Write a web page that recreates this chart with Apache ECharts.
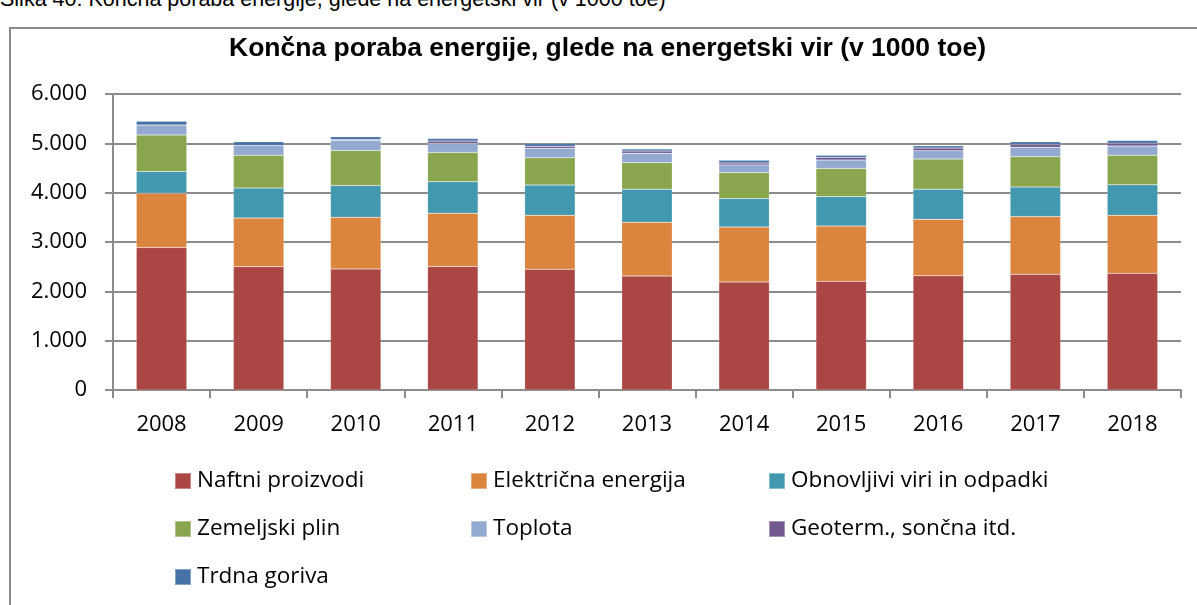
<!DOCTYPE html>
<html>
<head>
<meta charset="utf-8">
<script src="https://cdn.jsdelivr.net/npm/echarts@6/dist/echarts.min.js"></script>
<style>
  html, body { margin: 0; padding: 0; background: #fff; overflow: hidden; }
  #caption {
    position: absolute; left: 0; top: -13px;
    font-family: "Liberation Sans", Arial, sans-serif; font-size: 21.5px; color: #000;
    white-space: nowrap;
  }
  #frame {
    position: absolute; left: 9px; top: 27px; width: 1400px; height: 800px;
    border: 2px solid #8c8c8c; box-sizing: border-box;
  }
  #chart { position: absolute; left: 0; top: 0; width: 1197px; height: 605px; }
</style>
</head>
<body>
<div id="caption">Slika 40: Končna poraba energije, glede na energetski vir (v 1000 toe)</div>
<div id="frame"></div>
<div id="chart"></div>
<script>
// Final energy consumption by energy source, thousand toe
const years = ['2008', '2009', '2010', '2011', '2012', '2013', '2014', '2015', '2016', '2017', '2018'];
const naftniProizvodi = [2890, 2500, 2455, 2505, 2450, 2310, 2190, 2205, 2315, 2345, 2365];
const elektricnaEnergija = [1100, 985, 1045, 1080, 1090, 1090, 1115, 1120, 1145, 1170, 1175];
const obnovljiviViri = [440, 610, 645, 635, 615, 670, 575, 595, 610, 600, 620];
const zemeljskiPlin = [740, 665, 710, 595, 555, 535, 525, 570, 610, 615, 600];
const toplota = [200, 195, 205, 185, 190, 195, 155, 170, 170, 190, 185];
const geoterm = [0, 0, 20, 45, 40, 45, 40, 55, 55, 55, 55];
const trdnaGoriva = [80, 75, 55, 55, 55, 40, 55, 45, 45, 55, 55];

const seriesDefs = [
  { name: 'Naftni proizvodi', data: naftniProizvodi, color: '#AA4643' },
  { name: 'Električna energija', data: elektricnaEnergija, color: '#DB843D' },
  { name: 'Obnovljivi viri in odpadki', data: obnovljiviViri, color: '#4198AF' },
  { name: 'Zemeljski plin', data: zemeljskiPlin, color: '#89A54E' },
  { name: 'Toplota', data: toplota, color: '#93A9CF' },
  { name: 'Geoterm., sončna itd.', data: geoterm, color: '#71588F' },
  { name: 'Trdna goriva', data: trdnaGoriva, color: '#4572A7' }
];

const uiFont = '"Open Sans", "Noto Sans", sans-serif';

function fmtThousands(v) {
  return String(v).replace(/\B(?=(\d{3})+(?!\d))/g, '.');
}

function legendColumn(left, names) {
  return {
    left: left, top: 469, orient: 'vertical', padding: 0,
    data: names,
    icon: 'rect', itemWidth: 16, itemHeight: 16, itemGap: 24,
    selectedMode: false,
    textStyle: { fontFamily: uiFont, fontSize: 22.5, color: '#000', lineHeight: 24, padding: [0, 0, 0, 1] }
  };
}

const chart = echarts.init(document.getElementById('chart'));
chart.setOption({
  animation: false,
  title: {
    text: 'Končna poraba energije, glede na energetski vir (v 1000 toe)',
    left: 229, top: 35, padding: 0,
    textStyle: { fontFamily: '"Liberation Sans", Arial, sans-serif', fontWeight: 'bold', fontSize: 26.5, color: '#000' }
  },
  legend: [
    legendColumn(174, ['Naftni proizvodi', 'Zemeljski plin', 'Trdna goriva']),
    legendColumn(470, ['Električna energija', 'Toplota']),
    legendColumn(768, ['Obnovljivi viri in odpadki', 'Geoterm., sončna itd.'])
  ],
  grid: { left: 113, right: 16, top: 94, bottom: 215, containLabel: false },
  xAxis: {
    type: 'category',
    data: years,
    axisLine: { lineStyle: { color: '#8c8c8c', width: 2 } },
    axisTick: { show: true, length: 8, lineStyle: { color: '#8c8c8c', width: 2 } },
    axisLabel: { fontFamily: uiFont, fontSize: 22, color: '#000', margin: 24 }
  },
  yAxis: {
    type: 'value',
    min: 0, max: 6000, interval: 1000,
    axisLine: { show: true, lineStyle: { color: '#8c8c8c', width: 2 } },
    axisTick: { show: true, length: 8, lineStyle: { color: '#8c8c8c', width: 2 } },
    splitLine: { lineStyle: { color: '#8c8c8c', width: 2 } },
    axisLabel: { fontFamily: uiFont, fontSize: 22, color: '#000', margin: 26, formatter: fmtThousands }
  },
  series: seriesDefs.map(s => ({
    name: s.name,
    type: 'bar',
    stack: 'total',
    data: s.data,
    barWidth: '52%',
    itemStyle: { color: s.color, borderColor: 'rgba(255,255,255,0.35)', borderWidth: 0.5 },
    emphasis: { disabled: true }
  }))
});
</script>
</body>
</html>
